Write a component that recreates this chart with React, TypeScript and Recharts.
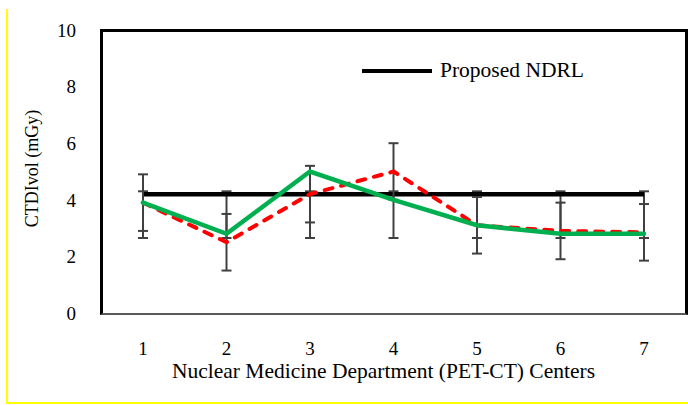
import { ComposedChart, Line, XAxis, YAxis, ErrorBar, Legend } from "recharts";

const centers = ["1", "2", "3", "4", "5", "6", "7"];
const proposedNdrl = [4.2, 4.2, 4.2, 4.2, 4.2, 4.2, 4.2];
const ndrlErrLow = [1.55, 1.55, 1.55, 1.55, 1.55, 1.55, 1.55];
const ndrlErrHigh = [0.1, 0.1, 0.1, 0.1, 0.1, 0.1, 0.1];
const doseMedian = [3.9, 2.5, 4.2, 5.0, 3.1, 2.9, 2.85];
const doseMedianErr = [1.0, 1.0, 1.0, 1.0, 1.0, 1.0, 1.0];
const doseMean = [3.9, 2.8, 5.0, 4.0, 3.1, 2.8, 2.8];
const yTicks = [0, 2, 4, 6, 8, 10];

const FONT = "'Liberation Serif', 'Times New Roman', serif";
const ERR_COLOR = "#404040";

// plot frame (matches chart margins below)
const M = { top: 30, right: 2, bottom: 0, left: 0 };
const Y_AXIS_W = 101;
const X_AXIS_H = 92;

const data = centers.map((c, i) => ({
  center: c,
  ndrl: proposedNdrl[i],
  ndrlErr: [ndrlErrLow[i], ndrlErrHigh[i]],
  median: doseMedian[i],
  medianErr: doseMedianErr[i],
  mean: doseMean[i],
}));

function NdrlLegend() {
  return (
    <div style={{ display: "flex", alignItems: "center", fontFamily: FONT, fontSize: 21.5, color: "#000" }}>
      <svg width={72} height={10} style={{ marginRight: 7 }}>
        <line x1={1} y1={5} x2={71} y2={5} stroke="#000" strokeWidth={4} />
      </svg>
      <span>Proposed NDRL</span>
    </div>
  );
}

export default function App() {
  const W = 688;
  const H = 405;
  const plotW = W - M.left - M.right - Y_AXIS_W;
  const plotH = H - M.top - M.bottom - X_AXIS_H;
  return (
    <div style={{ position: "absolute", left: 0, top: 0, width: W, height: H, background: "#fff", overflow: "hidden" }}>
      <div
        style={{
          position: "absolute", left: 6, top: 9, width: 700, height: 393,
          borderLeft: "2px solid #ffff00", borderBottom: "2px solid #ffff00",
        }}
      />
      <div
        style={{
          position: "absolute",
          boxSizing: "border-box",
          left: M.left + Y_AXIS_W - 1.5,
          top: M.top - 1.5,
          width: plotW + 3,
          height: plotH + 3,
          borderTop: "3px solid #000",
          borderLeft: "3px solid #000",
          borderRight: "3px solid #000",
          borderBottom: "2px solid #595959",
        }}
      />
      <ComposedChart
        width={W}
        height={H}
        data={data}
        margin={M}
        style={{ position: "absolute", left: 0, top: 0, fontFamily: FONT }}
      >
        <XAxis
          dataKey="center"
          height={X_AXIS_H}
          padding={{ left: 42, right: 42 }}
          tickLine={false}
          tickSize={0}
          tickMargin={29}
          axisLine={false}
          tick={{ fontSize: 19, fill: "#000", fontFamily: FONT }}
          label={{
            value: "Nuclear Medicine Department (PET-CT) Centers",
            position: "insideBottom",
            offset: 27,
            dx: -10,
            style: { fontSize: 21.5, fill: "#000", fontFamily: FONT },
          }}
        />
        <YAxis
          type="number"
          domain={[0, 10]}
          ticks={yTicks}
          width={Y_AXIS_W}
          tickLine={false}
          tickSize={0}
          tickMargin={25}
          axisLine={false}
          tick={{ fontSize: 19, fill: "#000", fontFamily: FONT }}
          label={{
            value: "CTDIvol (mGy)",
            angle: -90,
            position: "insideLeft",
            offset: 32,
            dy: -3,
            style: { textAnchor: "middle", fontSize: 18, fill: "#000", fontFamily: FONT },
          }}
        />
        <Legend
          layout="horizontal"
          verticalAlign="middle"
          align="center"
          content={() => <NdrlLegend />}
          wrapperStyle={{ left: 361, top: 58, width: 280 }}
        />
        <Line
          dataKey="ndrl"
          name="Proposed NDRL"
          stroke="#000"
          strokeWidth={4.5}
          dot={false}
          activeDot={false}
          isAnimationActive={false}
        >
          <ErrorBar dataKey="ndrlErr" direction="y" width={5} stroke={ERR_COLOR} strokeWidth={2} isAnimationActive={false} />
        </Line>
        <Line
          dataKey="median"
          legendType="none"
          stroke="#ff0000"
          strokeWidth={4}
          strokeDasharray="8 9"
          strokeLinecap="round"
          dot={false}
          activeDot={false}
          isAnimationActive={false}
        >
          <ErrorBar dataKey="medianErr" direction="y" width={5} stroke={ERR_COLOR} strokeWidth={2} isAnimationActive={false} />
        </Line>
        <Line
          dataKey="mean"
          legendType="none"
          stroke="#00b050"
          strokeWidth={4.5}
          strokeLinecap="round"
          dot={false}
          activeDot={false}
          isAnimationActive={false}
        />
      </ComposedChart>
    </div>
  );
}
